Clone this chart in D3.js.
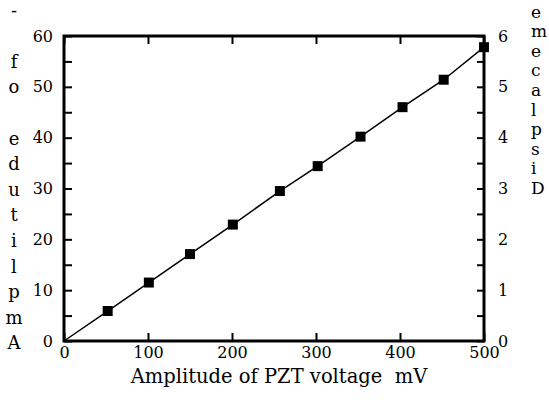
<!DOCTYPE html>
<html>
<head>
<meta charset="utf-8">
<script src="https://cdn.jsdelivr.net/npm/d3@7"></script>
<style>
  body { margin: 0; background: #fff; }
</style>
</head>
<body>
<div id="chart"></div>
<script>
// PZT voltage (mV) vs amplitude; line starts at the origin
const voltage = [0, 52, 101, 150, 201, 257, 302, 353, 403, 452, 500];
const amplitude = [0, 5.9, 11.5, 17.1, 22.9, 29.5, 34.4, 40.2, 46.0, 51.4, 57.8];
const xTicks = [0, 100, 200, 300, 400, 500];
const yTicks = [0, 5, 10, 15, 20, 25, 30, 35, 40, 45, 50, 55, 60];
const rightTicks = [0, 0.5, 1, 1.5, 2, 2.5, 3, 3.5, 4, 4.5, 5, 5.5, 6];
const xTitle = "Amplitude of PZT voltage  mV";
const leftTitle = "Amplitude of -";
const rightTitle = "Displaceme";

const FONT = "DejaVu Serif";

const width = 549, height = 400;
const margin = { top: 36, right: 65, bottom: 59, left: 64 };

const svg = d3.select("#chart").append("svg")
  .attr("width", width)
  .attr("height", height)
  .attr("font-family", FONT);

const x = d3.scaleLinear().domain([0, 500]).range([margin.left, width - margin.right]);
const y = d3.scaleLinear().domain([0, 60]).range([height - margin.bottom, margin.top]);
const y2 = d3.scaleLinear().domain([0, 6]).range([height - margin.bottom, margin.top]);

function styleAxis(g) {
  g.attr("font-family", FONT);
  g.select(".domain").remove();
  g.selectAll(".tick line").attr("stroke", "#000").attr("stroke-width", 2);
  g.selectAll(".tick text").attr("fill", "#000").attr("font-size", 16).attr("font-family", FONT);
}

// bottom
svg.append("g")
  .attr("transform", `translate(0,${y(0)})`)
  .call(d3.axisBottom(x).tickValues(xTicks).tickSize(-8).tickPadding(6))
  .call(styleAxis);

// top (ticks only)
svg.append("g")
  .attr("transform", `translate(0,${y(60)})`)
  .call(d3.axisTop(x).tickValues(xTicks).tickSize(-8).tickFormat(""))
  .call(styleAxis);

// left
svg.append("g")
  .attr("transform", `translate(${x(0)},0)`)
  .call(d3.axisLeft(y).tickValues(yTicks).tickSize(-8).tickPadding(11)
    .tickFormat(d => d % 10 === 0 ? d : ""))
  .call(styleAxis);

// right
svg.append("g")
  .attr("transform", `translate(${x(500)},0)`)
  .call(d3.axisRight(y2).tickValues(rightTicks).tickSize(-7).tickPadding(14)
    .tickFormat(d => Number.isInteger(d) ? d : ""))
  .call(styleAxis);

// frame
svg.append("rect")
  .attr("x", x(0))
  .attr("y", y(60))
  .attr("width", x(500) - x(0))
  .attr("height", y(0) - y(60))
  .attr("fill", "none")
  .attr("stroke", "#000")
  .attr("stroke-width", 3);

const pts = voltage.map((v, i) => ({ v, a: amplitude[i] }));

svg.append("path")
  .datum(pts)
  .attr("fill", "none")
  .attr("stroke", "#000")
  .attr("stroke-width", 1.5)
  .attr("d", d3.line().x(d => x(d.v)).y(d => y(d.a)));

svg.append("g")
  .selectAll("rect")
  .data(pts.slice(1))
  .join("rect")
  .attr("x", d => x(d.v) - 5)
  .attr("y", d => y(d.a) - 5)
  .attr("width", 10)
  .attr("height", 10)
  .attr("fill", "#000");

// x title
svg.append("text")
  .attr("x", 279)
  .attr("y", 383)
  .attr("text-anchor", "middle")
  .attr("font-size", 19.5)
  .attr("fill", "#000")
  .attr("xml:space", "preserve")
  .style("white-space", "pre")
  .text(xTitle);

// stacked letters, read bottom to top
svg.append("g")
  .selectAll("text")
  .data(leftTitle.split(""))
  .join("text")
  .attr("x", 14)
  .attr("y", (d, i) => 343 - i * 25.6)
  .attr("dy", "0.35em")
  .attr("text-anchor", "middle")
  .attr("font-size", 18)
  .attr("fill", "#000")
  .text(d => d);

svg.append("g")
  .selectAll("text")
  .data(rightTitle.split(""))
  .join("text")
  .attr("x", 531)
  .attr("y", (d, i) => 188 - i * 19.6)
  .attr("dy", "0.35em")
  .attr("text-anchor", "start")
  .attr("font-size", 17)
  .attr("fill", "#000")
  .text(d => d);
</script>
</body>
</html>
